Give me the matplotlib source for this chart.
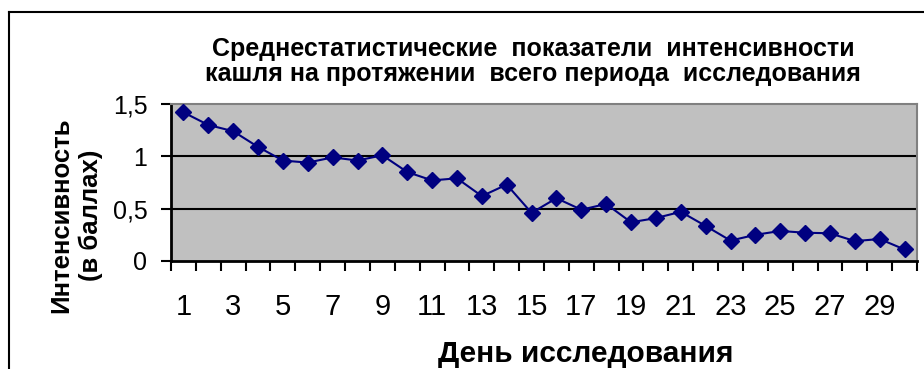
import numpy as np
import matplotlib.pyplot as plt
from matplotlib.lines import Line2D

plt.rcParams['font.family'] = ['Liberation Sans', 'DejaVu Sans']

# mean cough intensity per day of study
days = np.arange(1, 31)
intensity = [1.42, 1.30, 1.24, 1.09, 0.96, 0.94, 0.99, 0.96, 1.01, 0.85,
             0.77, 0.79, 0.62, 0.73, 0.46, 0.60, 0.49, 0.545, 0.37, 0.41,
             0.47, 0.335, 0.195, 0.25, 0.287, 0.27, 0.265, 0.19, 0.21, 0.11]
y_ticks = [0, 0.5, 1, 1.5]
y_ticklabels = ['0', '0,5', '1', '1,5']
x_labeled = days[::2]

title_lines = ['Среднестатистические  показатели  интенсивности',
               'кашля на протяжении  всего периода  исследования']
ylabel = 'Интенсивность\n(в баллах)'
xlabel = 'День исследования'

fig = plt.figure(figsize=(9.24, 3.69), dpi=100)
ax = fig.add_axes([171 / 924, 1 - 261 / 369, (917 - 171) / 924, (261 - 104) / 369])
ax.set_facecolor('#c0c0c0')

ax.plot(days, intensity, color='#000080', lw=1.5, marker='D', markersize=8.5,
        markerfacecolor='#000080', markeredgecolor='#000080', zorder=3)

ax.set_xlim(0.5, 30.5)
ax.set_ylim(0, 1.5)
for y in y_ticks[1:3]:
    ax.axhline(y, color='black', lw=1.5, zorder=1)

ax.set_yticks(y_ticks)
ax.set_yticklabels(y_ticklabels, fontsize=18)
ax.set_xticks(np.arange(0.5, 31, 1))
ax.set_xticklabels([])
ax.set_xticks(x_labeled, minor=True)
ax.set_xticklabels([str(d) for d in x_labeled], minor=True, fontsize=21)
ax.tick_params(axis='x', which='major', direction='out', length=7, width=1.5)
ax.tick_params(axis='x', which='minor', length=0, pad=23)
ax.tick_params(axis='y', direction='out', length=7, width=1.5, pad=10)

for side in ['left', 'bottom']:
    ax.spines[side].set_linewidth(2)
for side in ['top', 'right']:
    ax.spines[side].set_color('#808080')
    ax.spines[side].set_linewidth(1.5)

for line, base in zip(title_lines, [56, 81]):
    fig.text(533 / 924, 1 - base / 369, line, ha='center', va='baseline',
             fontsize=18, fontweight='bold')
fig.text(76 / 924, 1 - 215 / 369, ylabel, ha='center', va='center',
         rotation=90, fontsize=18.5, fontweight='bold', linespacing=1.3)
fig.text(586 / 924, 1 - 362 / 369, xlabel, ha='center', va='baseline',
         fontsize=21.5, fontweight='bold')

# chart frame
fig.add_artist(Line2D([9 / 924, 9 / 924], [0, 1 - 12 / 369], color='black', lw=1.5))
fig.add_artist(Line2D([9 / 924, 1], [1 - 12 / 369, 1 - 12 / 369], color='black', lw=1.5))

fig.savefig('out.png', dpi=100)
